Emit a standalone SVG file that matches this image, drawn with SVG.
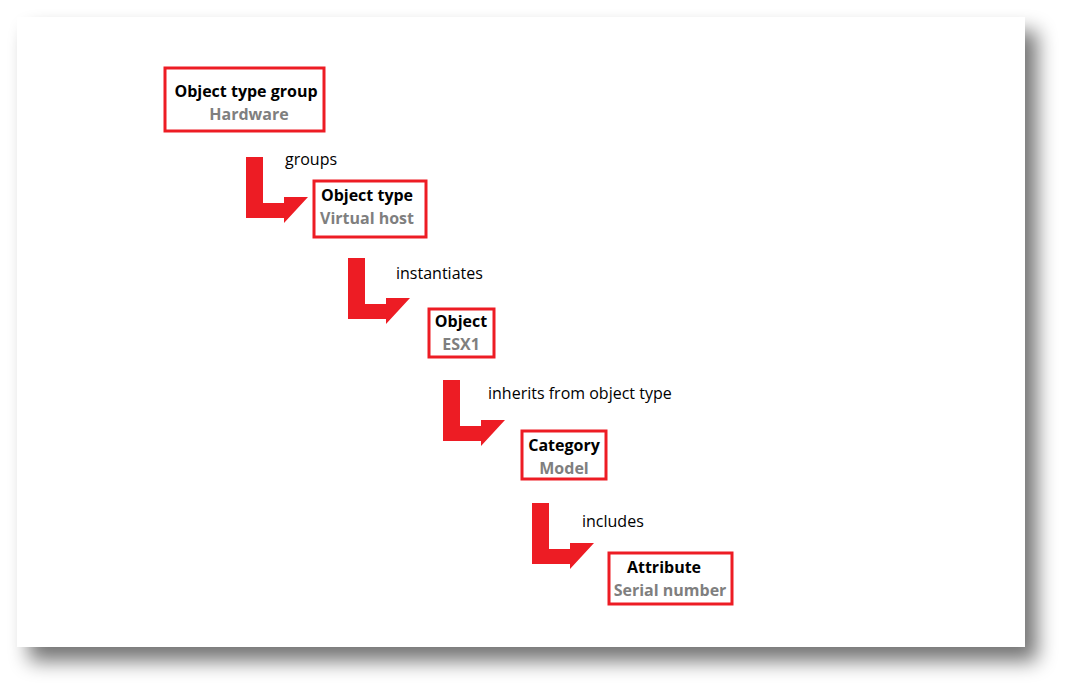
<svg xmlns="http://www.w3.org/2000/svg" width="1073" height="695" viewBox="0 0 1073 695">
<defs>
<filter id="sh" x="-10%" y="-10%" width="125%" height="130%"><feGaussianBlur in="SourceAlpha" stdDeviation="10"/><feOffset dx="12" dy="14"/><feComponentTransfer><feFuncA type="linear" slope="0.55"/></feComponentTransfer><feMerge><feMergeNode/><feMergeNode in="SourceGraphic"/></feMerge></filter>
<path id="arr" d="M0,0 H17 V46 H38 V40 H62 L38,66 V61 H0 Z"/>
</defs>
<style>
.box{fill:#fff;stroke:#ed1c24;stroke-width:3}
.t{font-family:"Open Sans","Liberation Sans",sans-serif;font-size:16px;font-weight:bold;text-anchor:middle;fill:#000}
.s{font-family:"Open Sans","Liberation Sans",sans-serif;font-size:16px;font-weight:bold;text-anchor:middle;fill:#7f7f7f}
.l{font-family:"Open Sans","Liberation Sans",sans-serif;font-size:16px;fill:#000}
.a{fill:#ed1c24}
</style>
<rect width="1073" height="695" fill="#fff"/>
<rect x="17" y="17" width="1008" height="630" fill="#fff" filter="url(#sh)"/>
<g id="connectors">
<use href="#arr" class="a" x="246" y="157"/>
<use href="#arr" class="a" x="348" y="258"/>
<use href="#arr" class="a" x="443" y="380"/>
<use href="#arr" class="a" x="532" y="503"/>
<text class="l" x="285" y="165">groups</text>
<text class="l" x="396" y="279">instantiates</text>
<text class="l" x="488" y="399">inherits from object type</text>
<text class="l" x="582" y="527">includes</text>
</g>
<g id="n1"><rect class="box" x="165" y="68" width="159" height="63"/><text class="t" x="246" y="97">Object type group</text><text class="s" x="249" y="120">Hardware</text></g>
<g id="n2"><rect class="box" x="314" y="181" width="112" height="56"/><text class="t" x="367" y="201">Object type</text><text class="s" x="367" y="224">Virtual host</text></g>
<g id="n3"><rect class="box" x="429" y="309" width="65" height="48"/><text class="t" x="461" y="327">Object</text><text class="s" x="461" y="350">ESX1</text></g>
<g id="n4"><rect class="box" x="522" y="431" width="84" height="48"/><text class="t" x="564" y="451">Category</text><text class="s" x="564" y="474">Model</text></g>
<g id="n5"><rect class="box" x="609" y="553" width="123" height="51"/><text class="t" x="664" y="573">Attribute</text><text class="s" x="670" y="596">Serial number</text></g>
</svg>
